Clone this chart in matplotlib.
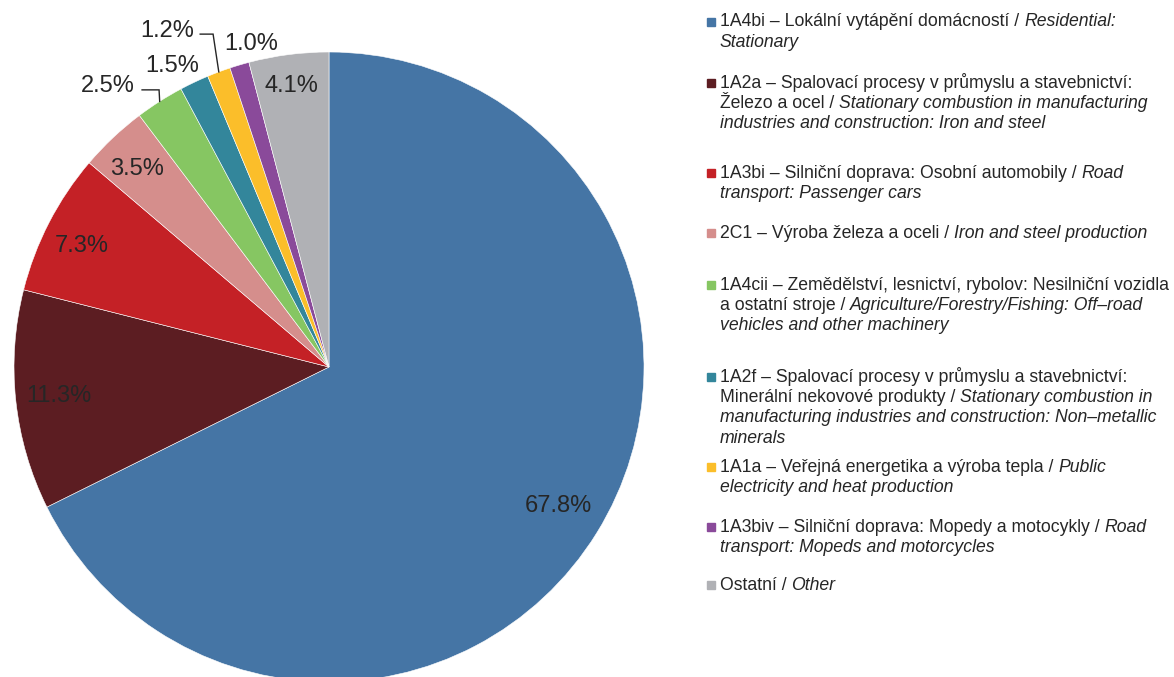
import numpy as np
import matplotlib.pyplot as plt
from matplotlib.patches import Rectangle

plt.rcParams['font.family'] = ['Liberation Sans', 'DejaVu Sans']

# shares of emissions (%)
values = [67.8, 11.3, 7.3, 3.5, 2.5, 1.5, 1.2, 1.0, 4.1]
pct_labels = ['67.8%', '11.3%', '7.3%', '3.5%', '2.5%', '1.5%', '1.2%', '1.0%', '4.1%']
colors = ['#4575a5', '#5c1d22', '#c42126', '#d58e8c', '#86c662',
          '#33869b', '#fbbe2a', '#8a4a9a', '#b0b1b5']

# legend text: list of lines, each line a list of (text, italic)
legend_lines = [
    [[('1A4bi – Lokální vytápění domácností / ', False), ('Residential:', True)],
     [('Stationary', True)]],
    [[('1A2a – Spalovací procesy v průmyslu a stavebnictví:', False)],
     [('Železo a ocel / ', False), ('Stationary combustion in manufacturing', True)],
     [('industries and construction: Iron and steel', True)]],
    [[('1A3bi – Silniční doprava: Osobní automobily / ', False), ('Road', True)],
     [('transport: Passenger cars', True)]],
    [[('2C1 – Výroba železa a oceli / ', False), ('Iron and steel production', True)]],
    [[('1A4cii – Zemědělství, lesnictví, rybolov: Nesilniční vozidla', False)],
     [('a ostatní stroje / ', False), ('Agriculture/Forestry/Fishing: Off–road', True)],
     [('vehicles and other machinery', True)]],
    [[('1A2f – Spalovací procesy v průmyslu a stavebnictví:', False)],
     [('Minerální nekovové produkty / ', False), ('Stationary combustion in', True)],
     [('manufacturing industries and construction: Non–metallic', True)],
     [('minerals', True)]],
    [[('1A1a – Veřejná energetika a výroba tepla / ', False), ('Public', True)],
     [('electricity and heat production', True)]],
    [[('1A3biv – Silniční doprava: Mopedy a motocykly / ', False), ('Road', True)],
     [('transport: Mopeds and motorcycles', True)]],
    [[('Ostatní / ', False), ('Other', True)]],
]

# label placement: radius factor and angle offset (deg) from wedge middle
label_r = [0.846, 0.861, 0.877, 0.880, 1.141, 1.085, 1.191, 1.062, 0.908]
label_dth = [1.1, -0.6, 0.65, 0.4, 5.54, 2.02, 5.09, -3.14, 0.17]
# leader lines (index, elbow radius, elbow angle offset, horizontal length)
leaders = [(4, 1.032, -1.0, 0.054), (6, 1.119, -1.28, 0.041)]

W, H = 1174, 677
fig = plt.figure(figsize=(W / 100, H / 100), dpi=100)
R = 315
cx, cy = 329, 367
ax = fig.add_axes([(cx - R) / W, (H - cy - R) / H, 2 * R / W, 2 * R / H])

wedges, _ = ax.pie(values, colors=colors, startangle=90, counterclock=False,
                   radius=1, wedgeprops=dict(edgecolor='white', linewidth=0.4))
ax.set_xlim(-1, 1)
ax.set_ylim(-1, 1)
ax.axis('off')

txt_color = '#262626'
for i, w in enumerate(wedges):
    mid = np.deg2rad((w.theta1 + w.theta2) / 2)
    th = mid + np.deg2rad(label_dth[i])
    ax.annotate(pct_labels[i], (label_r[i] * np.cos(th), label_r[i] * np.sin(th)),
                xytext=(0, -1.8), textcoords='offset points',
                ha='center', va='center', fontsize=17, color=txt_color,
                annotation_clip=False)

for i, rel, dth, length in leaders:
    w = wedges[i]
    mid = np.deg2rad((w.theta1 + w.theta2) / 2)
    x0, y0 = np.cos(mid), np.sin(mid)
    a1 = mid + np.deg2rad(dth)
    x1, y1 = rel * np.cos(a1), rel * np.sin(a1)
    ax.plot([x0, x1, x1 - length], [y0, y1, y1], color=txt_color, lw=1.0,
            clip_on=False, solid_joinstyle='miter')

# legend drawn by hand (mixed upright / italic text)
entry_top = [22, 83, 173, 233, 285, 377, 467, 527, 585]
line_h = 20.5
text_x = 720
fs = 12.7
renderer = fig.canvas.get_renderer()
for k, lines in enumerate(legend_lines):
    y0 = entry_top[k]
    fig.patches.append(Rectangle(((text_x - 13) / W, (H - y0 - 4) / H), 8 / W, 8 / H,
                                 transform=fig.transFigure, color=colors[k]))
    for j, segs in enumerate(lines):
        x = text_x
        y = H - (y0 + j * line_h)
        for s, ital in segs:
            t = fig.text(x / W, y / H, s, fontsize=fs, color=txt_color,
                         style='italic' if ital else 'normal', ha='left', va='center')
            x += t.get_window_extent(renderer).width

fig.savefig('out.png', dpi=100)
